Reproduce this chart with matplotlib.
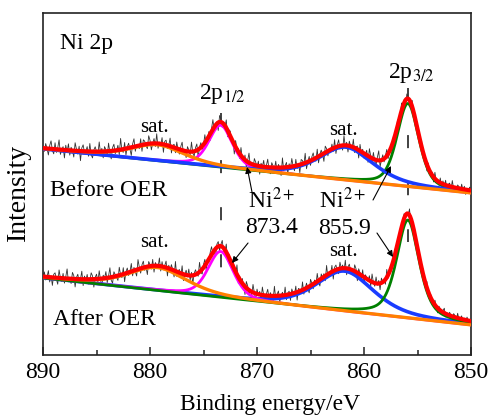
import numpy as np
import matplotlib
matplotlib.use("Agg")
import matplotlib.pyplot as plt

plt.rcParams['font.family'] = ['Liberation Serif', 'DejaVu Serif']
plt.rcParams['mathtext.fontset'] = 'stix'

# Ni 2p fit parameters: sat. 2p1/2, 2p1/2, sat. 2p3/2, 2p3/2
centers_before = [879.3, 873.4, 861.7, 855.9]
heights_before = [16, 42, 33, 83]
fwhm_before    = [6.0, 2.6, 6.0, 2.4]
eta_before     = [0.5, 0.4, 0.5, 0.4]   # lorentzian fraction
centers_after  = [879.3, 873.4, 861.8, 855.9]
heights_after  = [23, 46, 40, 98]
fwhm_after     = [6.5, 2.8, 6.3, 2.5]
eta_after      = [0.5, 0.4, 0.5, 0.55]

# linear background (intensity at 890 eV, 850 eV)
bg_before = [206, 162]
bg_after  = [77, 30]

# residual counts of the raw spectra, 0.125 eV steps from 890 to 850 eV
noise_before = [
 1, -2, 3, 0, -4, 2, 5, -1, -3, 4, -2, 1, 6, -3, 0, 2, -5, 3, -1, 4,
 -3, 2, 0, -4, 5, 1, -2, 3, -6, 2, 4, -1, 0, 3, -3, 5, -2, -4, 1, 3,
 0, -2, 6, -1, 2, -4, 3, 1, -3, 5, -1, -5, 2, 4, -2, 0, 3, -3, 7, -1,
 -2, 4, -4, 1, 3, -1, -5, 2, 5, -3, 1, 0, -2, 4, -4, 3, 2, -1, -3, 5,
 2, -4, 0, 3, -2, 6, -3, 1, -1, 4, -5, 2, 3, -2, 0, 5, -4, 1, 2, -3,
 4, -1, -3, 2, 5, -2, 0, -4, 3, 1, -2, 6, -1, -3, 2, 4, -5, 1, 3, -2,
 0, 5, -3, -1, 3, -4, 2, 6, -2, 0, 1, -5, 4, 2, -3, 1, -1, 5, -4, 2,
 3, -2, 1, -6, 4, 0, 2, -3, 5, -1, -2, 3, -4, 1, 6, -2, 0, -3, 4, 2,
 -1, 3, -5, 2, 0, 4, -3, 1, 5, -2, -4, 3, 1, -1, 4, -3, 2, 0, -5, 6,
 -2, 1, 3, -4, 2, -1, 5, 0, -3, 4, -2, 1, -5, 3, 2, -1, 6, -4, 0, 3,
 -3, 2, 4, -1, -2, 5, -4, 1, 3, 0, -5, 4, 2, -3, 1, -1, 3, -2, 5, -4,
 1, 4, -2, 0, -3, 6, -1, 2, -4, 3, 0, -2, 5, -3, 1, 2, -5, 4, -1, 2,
 -3, 0, 3, -4, 5, 1, -2, 4, -1, -3, 2, 6, -4, 0, 3, -2, 1, 4, -3, -1,
 2, -5, 3, 1, -2, 4, 0, -3, 5, -1, 2, -4, 3, 1, -2, 0, 4, -3, 2, -1,
 3, -2, 0, 4, -3, 1, 2, -4, 3, -1, 0, 2, -3, 4, -1, 1, -2, 3, -2, 2,
 -1, 3, -3, 1, 2, -2, 4, -1, 0, -3, 2, 1, -2, 3, -1, 2, -3, 1, 0, 2,
 -1]
noise_after = [
 -1, 3, -2, 0, 4, -3, 1, -5, 2, 3, -1, -4, 5, 0, -2, 3, -3, 1, 6, -2,
 0, -3, 4, 2, -5, 1, 3, -2, 0, 5, -4, 2, -1, 3, -3, -1, 4, 2, -5, 1,
 3, -2, 5, -1, -4, 2, 0, 4, -3, 1, 6, -2, -4, 3, 1, -1, -3, 5, 0, -2,
 4, -5, 1, 3, -2, 0, 5, -3, 2, -1, -4, 6, 1, -3, 2, 4, -2, 0, -5, 3,
 1, -2, 4, -4, 2, 0, -1, 5, -3, 3, -2, 1, 4, -5, 2, -1, 3, 0, -4, 6,
 -3, 1, 2, -2, 5, -4, 0, 3, -1, 4, -3, 2, -5, 1, 3, 0, -2, 6, -1, -3,
 2, 4, -4, 1, -2, 3, 5, -1, 0, -5, 2, 3, -3, 1, 4, -2, -1, 5, -4, 2,
 0, -3, 4, 1, -2, 6, -4, 2, 0, 3, -1, -5, 4, 2, -3, 1, -2, 5, 0, -4,
 3, -1, 2, -3, 5, 0, -4, 1, 4, -2, 2, -1, -3, 6, -2, 1, 3, -4, 0, 2,
 -2, 5, -3, 1, 2, -4, 3, 0, -1, 4, -5, 2, 1, -2, 5, -3, 0, 3, -1, -4,
 4, 1, -3, 2, -2, 5, -1, -4, 3, 0, 2, -3, 6, -2, 1, -1, 4, -5, 2, 3,
 -1, -3, 4, 0, 2, -2, 5, -4, 1, 3, -1, 0, -3, 4, 2, -5, 3, 1, -2, 4,
 -4, 2, 1, -1, 3, -3, 5, 0, -2, 4, -1, 2, -4, 3, 0, 1, -3, 5, -2, 1,
 2, -1, -3, 4, 0, -2, 3, 1, -4, 2, 3, -2, 1, -1, 4, -3, 0, 2, -2, 3,
 -1, 2, -3, 1, 3, -2, 0, 4, -3, 1, 2, -1, -2, 3, 0, -3, 2, 1, -2, 1,
 3, -2, 1, -1, 2, 0, -3, 2, 1, -2, 3, -1, 0, 2, -3, 1, -1, 2, 0, -2,
 1]
noise_scale = 1.6

comp_colors = ['#ff8000', '#ff00ff', '#1a3cff', '#008000']
comp_widths = [2.4, 2.0, 2.6, 2.0]


def pvoigt(x, c, h, w, f):
    u = (x - c) / w
    g = np.exp(-4 * np.log(2) * u**2)
    l = 1.0 / (1 + 4 * u**2)
    return h * (f * l + (1 - f) * g)


def background(x, ends):
    return ends[0] + (ends[1] - ends[0]) * (890 - x) / 40.0


E = np.linspace(850, 890, 801)

fig = plt.figure(figsize=(4.9, 4.17), dpi=100)
ax = fig.add_axes([0.0878, 0.1487, 0.8735, 0.8201])


def draw_spectrum(centers, heights, fwhm, eta, bg, noise, order):
    pars = list(zip(centers, heights, fwhm, eta))
    base = background(E, bg)
    comps = [pvoigt(E, *p) for p in pars]
    Er = np.linspace(890, 850, len(noise))
    raw = background(Er, bg) + sum(pvoigt(Er, *p) for p in pars)
    ax.plot(Er, raw + noise_scale * np.array(noise), color='#333333', lw=0.6, zorder=2)
    for i in order:
        ax.plot(E, base + comps[i], color=comp_colors[i], lw=comp_widths[i],
                zorder=3, solid_capstyle='butt')
    ax.plot(E, base + sum(comps), color='#ff0000', lw=3.0, zorder=4)


draw_spectrum(centers_before, heights_before, fwhm_before, eta_before,
              bg_before, noise_before, [3, 1, 2, 0])
draw_spectrum(centers_after, heights_after, fwhm_after, eta_after,
              bg_after, noise_after, [2, 1, 3, 0])

# dashed markers at the Ni2+ positions
lw_d = 1.3
ax.plot([873.4, 873.4], [242, 85], color='#333333', lw=lw_d,
        linestyle=(0, (9.4 / lw_d, 24.5 / lw_d)), zorder=1)
ax.plot([855.9, 855.9], [267, 113], color='#333333', lw=lw_d,
        linestyle=(0, (9.4 / lw_d, 24.5 / lw_d)), zorder=1)

fs = 17
ax.text(888.4, 312, 'Ni 2p', fontsize=fs, va='center', ha='left')
ax.text(889.35, 165, 'Before OER', fontsize=fs, va='center', ha='left')
ax.text(889.05, 35, 'After OER', fontsize=fs, va='center', ha='left')

ax.text(879.6, 228, 'sat.', fontsize=15, ha='center', va='center')
ax.text(861.9, 225, 'sat.', fontsize=15, ha='center', va='center')
ax.text(879.6, 112, 'sat.', fontsize=15, ha='center', va='center')
ax.text(861.9, 103, 'sat.', fontsize=15, ha='center', va='center')

ax.text(873.2, 261, '2p$_{1/2}$', fontsize=fs, ha='center', va='center')
ax.text(855.6, 282, '2p$_{3/2}$', fontsize=fs, ha='center', va='center')

ax.text(868.6, 155, 'Ni$^{2+}$', fontsize=fs, ha='center', va='center')
ax.text(868.6, 127, '873.4', fontsize=fs, ha='center', va='center')
ax.text(862.0, 155, 'Ni$^{2+}$', fontsize=fs, ha='center', va='center')
ax.text(861.8, 126, '855.9', fontsize=fs, ha='center', va='center')

arrow = dict(arrowstyle='-|>', color='black', lw=0.8, mutation_scale=9,
             shrinkA=0, shrinkB=0)
ax.annotate('', xy=(870.93, 188), xytext=(870.47, 163), arrowprops=arrow, zorder=5)
ax.annotate('', xy=(872.34, 92), xytext=(870.84, 112), arrowprops=arrow, zorder=5)
ax.annotate('', xy=(857.48, 189), xytext=(859.16, 155), arrowprops=arrow, zorder=5)
ax.annotate('', xy=(857.29, 98), xytext=(858.79, 122), arrowprops=arrow, zorder=5)

ax.set_xlim(890, 850)
ax.set_ylim(0, 342)
ax.set_yticks([])
ax.set_xticks([890, 880, 870, 860, 850])
ax.set_xticks([885, 875, 865, 855], minor=True)
ax.tick_params(axis='x', which='both', direction='in', top=False, width=1.1,
               labelsize=fs, pad=5, color='#222222')
ax.tick_params(axis='x', which='major', length=6)
ax.tick_params(axis='x', which='minor', length=3.5)
for s in ax.spines.values():
    s.set_linewidth(1.2)
    s.set_color('#222222')

ax.set_xlabel('Binding energy/eV', fontsize=17, va='center')
ax.xaxis.set_label_coords(0.530, -0.146)
ax.set_ylabel('Intensity', fontsize=20, va='center')
ax.yaxis.set_label_coords(-0.058, 0.474)

fig.savefig('out.png', dpi=100)
